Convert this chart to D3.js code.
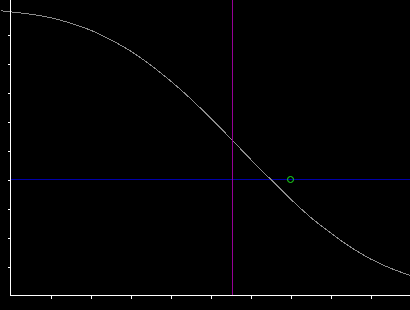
<!DOCTYPE html>
<html>
<head>
<meta charset="utf-8">
<script src="https://cdn.jsdelivr.net/npm/d3@7"></script>
<style>
  body { margin: 0; background: #000; }
  svg { display: block; }
</style>
</head>
<body>
<div id="chart"></div>
<script>
// curve samples (x in axis units, y as a fraction)
var curveX = [-0.25, 0, 0.5, 1, 1.5, 2, 2.5, 3, 3.5, 4, 4.5, 5, 5.5, 6, 6.5, 7, 7.5, 8, 8.5, 9, 9.5, 10];
var curveY = [0.982, 0.978, 0.970, 0.958, 0.939, 0.915, 0.882, 0.843, 0.795, 0.740, 0.679, 0.612, 0.542, 0.470, 0.401, 0.333, 0.270, 0.216, 0.167, 0.126, 0.094, 0.069];

// markers
var cursorX = 5.55;     // vertical purple line
var levelY = 0.4;       // horizontal blue line
var pointX = 7;         // green circle
var pointY = 0.4;

var xTicks = [1, 2, 3, 4, 5, 6, 7, 8, 9];
var yTicks = [0.1, 0.2, 0.3, 0.4, 0.5, 0.6, 0.7, 0.8, 0.9];

var W = 410, H = 310;

var svg = d3.select("#chart").append("svg")
  .attr("width", W)
  .attr("height", H)
  .style("background", "#000");

var x = d3.scaleLinear().domain([0, 10]).range([10.5, 410.5]);
var y = d3.scaleLinear().domain([0, 1]).range([295.5, 5.5]);

// horizontal level line
svg.append("line")
  .attr("x1", x(0)).attr("x2", W)
  .attr("y1", y(levelY)).attr("y2", y(levelY))
  .style("stroke", "#0000a8")
  .style("stroke-width", 1)
  .style("shape-rendering", "crispEdges");

// the curve
var pts = curveX.map(function(d, i) { return [d, curveY[i]]; });
var line = d3.line()
  .x(function(d) { return x(d[0]); })
  .y(function(d) { return y(d[1]); })
  .curve(d3.curveMonotoneX);

svg.append("path")
  .attr("d", line(pts))
  .style("fill", "none")
  .style("stroke", "#8c8c8c")
  .style("stroke-width", 1)
  .style("shape-rendering", "crispEdges");

// vertical cursor
var cx = Math.floor(x(cursorX)) + 0.5;
svg.append("line")
  .attr("x1", cx).attr("x2", cx)
  .attr("y1", 0).attr("y2", y(0))
  .style("stroke", "#960096")
  .style("stroke-width", 1)
  .style("shape-rendering", "crispEdges");

// green marker
svg.append("circle")
  .attr("cx", x(pointX))
  .attr("cy", y(pointY))
  .attr("r", 3)
  .style("fill", "none")
  .style("stroke", "#1ee61e")
  .style("stroke-width", 1);

// axes
var yAxis = svg.append("g")
  .attr("transform", "translate(" + x(0) + ",0)")
  .call(d3.axisLeft(y).tickValues(yTicks).tickSize(3).tickFormat(""));
yAxis.select(".domain").remove();
yAxis.append("line")
  .attr("x1", 0).attr("x2", 0)
  .attr("y1", 0).attr("y2", y(0));

var xAxis = svg.append("g")
  .attr("transform", "translate(0," + y(0) + ")")
  .call(d3.axisBottom(x).tickValues(xTicks).tickSize(3).tickFormat(""));
xAxis.select(".domain").remove();
xAxis.append("line")
  .attr("x1", x(0)).attr("x2", W)
  .attr("y1", 0).attr("y2", 0);

svg.selectAll("g line")
  .style("stroke", "#fff")
  .style("stroke-width", 1)
  .style("shape-rendering", "crispEdges");
</script>
</body>
</html>
